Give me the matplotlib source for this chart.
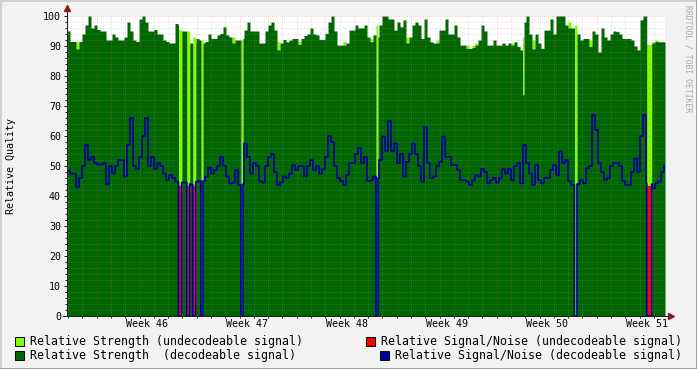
import numpy as np
import matplotlib.pyplot as plt
from matplotlib.lines import Line2D
from matplotlib.patches import Rectangle
from matplotlib.ticker import MultipleLocator, FixedLocator

plt.rcParams['font.family'] = 'DejaVu Sans Mono'

W, H = 697, 369

# one value per ~5 hour step (0.21 days) left to right
strength = [
    95, 91.5, 91.5, 89, 91.5, 94, 97, 100, 96, 97, 95.5, 95, 95, 92, 92, 94,
    93, 92, 92, 93, 98, 95, 92, 91.5, 99, 100, 98, 95, 95, 95.5, 94, 94,
    92, 91.5, 91, 91, 97.5, 97, 95, 95, 91, 91, 91, 92.5, 92, 91, 91.5, 94,
    92.5, 92.5, 93.7, 94.2, 96.4, 93.7, 93, 91, 92, 92, 92.5, 95.3, 98, 95, 95, 95,
    91, 91,
    95, 97, 98, 95.3, 88.7, 91, 92.2, 91.4, 92, 92.5, 92.5, 90.5, 92.5, 93.5, 94, 96,
    94, 93.7, 92.2, 92.2, 94.2, 98, 100, 95, 90.3, 90.3, 90.3, 91, 95.3, 95.3, 97, 96,
    96,
    97, 93, 91.4, 93.7, 93, 97, 100, 100, 99, 99, 95.3, 98, 96.4, 98.7, 91, 93,
    97, 98, 97, 92.5, 99, 93, 91.4, 91, 91, 95.3, 95.3, 99, 94, 94, 97, 93,
    90.3, 90.3,
    89.2, 89.2, 89.5, 90.3, 92, 97, 95, 90.3, 90.3, 92, 90.3, 90.3, 91, 90.3, 91, 90.3,
    91.4, 89.8, 88.7, 98, 100, 94, 89, 94, 91, 89.2, 95.3, 95.3, 99, 94, 100, 100,
    100,
    97, 96, 96, 96, 94, 92, 92.5, 92.5, 89.8, 95, 94, 88, 96, 93, 92, 94,
    95, 94.8, 94, 92.5, 92.5, 92.5, 92, 90, 88.7, 98.7, 100, 100, 91, 91, 91.5, 91.4,
    91.4, 91.4,
]
snr = [
    48.5, 47.5, 47.5, 43, 46, 50, 57, 52, 53, 51, 50.5, 50.5, 51, 44, 50, 47.5,
    50, 52, 52, 46.5, 57, 66, 50, 49, 53, 60, 66, 50, 53, 49, 51, 50,
    47.5, 45.3, 47, 46, 44.8, 44.5, 44.5, 44.5, 44, 43.8, 44.5, 44.8, 45, 45, 46.4, 49.5,
    47.5, 48.7, 50, 53, 50, 46.5, 44.2, 44.5, 48.7, 43.7, 44, 57.5, 53, 47.5, 51, 50,
    45, 44.5,
    50, 53, 54, 48, 43.7, 44.5, 46.5, 46, 47.5, 50.3, 48.7, 50, 50, 46.5, 50, 52,
    48.7, 50, 47.5, 49, 53, 60, 58, 50, 46, 45, 43.7, 47, 51, 51, 54, 56,
    51,
    53, 45, 45.3, 46.5, 46, 52, 59.8, 55, 65, 55, 57.6, 51, 54, 46.4, 51.4, 54,
    57.5, 54, 50, 44.8, 63, 51, 46, 46.5, 50, 51.4, 59.8, 53, 53, 50.3, 50.3, 48.7,
    45.3, 45.3,
    44.8, 43.7, 45.3, 47, 46.5, 49, 48, 44.2, 45.3, 46, 44.5, 46, 49, 47.5, 49, 45.3,
    50, 51, 44.2, 57, 51, 47.5, 43.7, 50.3, 45.3, 44.2, 46, 46, 48.7, 50.3, 47, 54.8,
    51,
    52, 45, 43.7, 43.7, 44, 45.3, 44.2, 49.2, 50, 67, 62, 51, 48, 45.3, 46, 50,
    51, 51, 50, 45, 43.7, 43.7, 48, 52.5, 48, 60, 67, 44.2, 44, 42.5, 44.2, 44.8,
    48, 50,
]
# steps where part of the signal was undecodeable (light green tips)
tip_steps = [3, 55, 70, 77, 92, 101, 113, 123, 133, 135, 136, 148, 155, 167, 174, 195, 196]
tip_vals = [91.5, 93, 91.5, 91.5, 91.5, 92.5, 93, 92, 90.3, 90.3, 91, 91, 92, 98, 92, 91.5, 92]

# undecodeable stretches (days from left edge)
ev_start = [7.80, 8.37, 8.79, 9.38, 12.18, 21.63, 31.88, 35.52, 40.57]
ev_end = [8.02, 8.58, 9.00, 9.52, 12.32, 21.77, 31.99, 35.70, 40.92]
ev_light = [95.5, 95, 93, 92, 92, 97, 93, 97, 90.5]
ev_dark = [0, 0, 0, 0, 0, 0, 73.7, 0, 0]
ev_red = [43.5, 43.5, 43.5, 0, 0, 0, 0, 0, 43.5]
ev_blue = [0, 0, 0, 0, 0, 0, np.nan, 0, 0]

week_labels = ['Week 46', 'Week 47', 'Week 48', 'Week 49', 'Week 50', 'Week 51']

step = 0.21
t_end = 598 * 0.07
first_week = 2.08

c_light = '#80FF00'
c_dark = '#006600'
c_red = '#FF0000'
c_blue = '#000099'

# expand to a fine time grid
strength = np.array(strength)
snr = np.array(snr)
t = np.arange(0, t_end + 0.0175, 0.0175)
idx = np.minimum((t / step).astype(int), len(strength) - 1)
tips = np.zeros(len(strength))
tips[tip_steps] = tip_vals
light = tips[idx]
dark = strength[idx]
red = np.zeros_like(t)
blue = snr[idx].copy()
for s, e, lv, dv, rv, bv in zip(ev_start, ev_end, ev_light, ev_dark, ev_red, ev_blue):
    m = (t >= s) & (t < e)
    light[m] = lv
    dark[m] = dv
    red[m] = rv
    if not np.isnan(bv):
        blue[m] = bv

fig = plt.figure(figsize=(W / 100, H / 100), dpi=100, facecolor='#F2F2F2')
ax = fig.add_axes([67 / W, 53 / H, 598 / W, 300 / H], facecolor='white')

ax.fill_between(t, 0, light, step='post', color=c_light, lw=0, antialiased=False, zorder=1)
ax.fill_between(t, 0, dark, step='post', color=c_dark, lw=0, antialiased=False, zorder=1.1)
ax.fill_between(t, 0, red, step='post', color=c_red, lw=0, antialiased=False, zorder=1.2)
ax.step(t, blue, where='post', color=c_blue, lw=1.25, zorder=3)

ax.set_xlim(0, t_end)
ax.set_ylim(0, 100)

ax.yaxis.set_major_locator(MultipleLocator(10))
ax.yaxis.set_minor_locator(MultipleLocator(2))
weeks = first_week + 7 * np.arange(6)
days = first_week + np.arange(-2, 40)
days = days[(days > 0) & (days < t_end)]
ax.xaxis.set_major_locator(FixedLocator(weeks))
ax.xaxis.set_minor_locator(FixedLocator(days))
ax.set_xticklabels([])

ax.set_axisbelow(False)
ax.grid(which='minor', color=(0.6, 0.6, 0.6), alpha=0.45, lw=0.55, ls=(0, (1, 1.6)))
ax.grid(which='major', color=(0.87, 0.31, 0.31), alpha=0.45, lw=0.55, ls=(0, (1, 1.6)))

ax.tick_params(axis='y', which='major', length=2.2, width=0.72, color='#1F1F1F',
               pad=2.2, labelsize=7.2)
ax.tick_params(axis='y', which='minor', length=1.4, width=0.72, color='#1F1F1F')
ax.tick_params(axis='x', which='both', length=1.4, width=0.72, color='#1F1F1F')
for sp in ax.spines.values():
    sp.set_visible(False)

for lab, w in zip(week_labels, weeks):
    ax.text(w + 3.5, -0.027, lab, transform=ax.get_xaxis_transform(),
            ha='center', va='center', fontsize=7.2)

ax.set_ylabel('Relative Quality', fontsize=7.2, labelpad=19)


def fx(x):
    return x / W


def fy(y):
    return 1 - y / H


# axis lines with arrows
fig.add_artist(Line2D([fx(67), fx(67)], [fy(316), fy(9)], color='#1F1F1F', lw=0.72))
fig.add_artist(Line2D([fx(63), fx(670)], [fy(316), fy(316)], color='#1F1F1F', lw=0.72))
fig.add_artist(Line2D([fx(67)], [fy(8)], marker='^', color='#801F1F', markersize=4, lw=0))
fig.add_artist(Line2D([fx(671)], [fy(316)], marker='>', color='#801F1F', markersize=4, lw=0))

# 3d frame
fig.add_artist(Line2D([0, 1], [fy(0.5), fy(0.5)], color='#CFCFCF', lw=1.4))
fig.add_artist(Line2D([fx(0.5), fx(0.5)], [0, 1], color='#CFCFCF', lw=1.4))
fig.add_artist(Line2D([0, 1], [fy(368.5), fy(368.5)], color='#9E9E9E', lw=1.4))
fig.add_artist(Line2D([fx(696.5), fx(696.5)], [0, 1], color='#9E9E9E', lw=1.4))

fig.text(fx(688), fy(5), 'RRDTOOL / TOBI OETIKER', rotation=270, ha='center', va='top',
         fontsize=5.8, color='#A8A8A8')

# legend
legend = [
    (15, 341, c_light, 'Relative Strength (undecodeable signal)', 'left'),
    (15, 355, c_dark, 'Relative Strength  (decodeable signal)', 'left'),
    (681, 341, c_red, 'Relative Signal/Noise (undecodeable signal)', 'right'),
    (681, 355, c_blue, 'Relative Signal/Noise (decodeable signal)', 'right'),
]
for x, y, col, txt, side in legend:
    if side == 'left':
        bx = x
        tx = x + 15
    else:
        tx = x - len(txt) * 6.98
        bx = tx - 15
    fig.add_artist(Rectangle((fx(bx), fy(y + 4.5)), 9 / W, 9 / H, facecolor=col,
                             edgecolor='black', lw=0.7))
    fig.text(fx(tx), fy(y), txt, ha='left', va='center', fontsize=8.35)

fig.savefig('out.png', dpi=100, facecolor=fig.get_facecolor())
